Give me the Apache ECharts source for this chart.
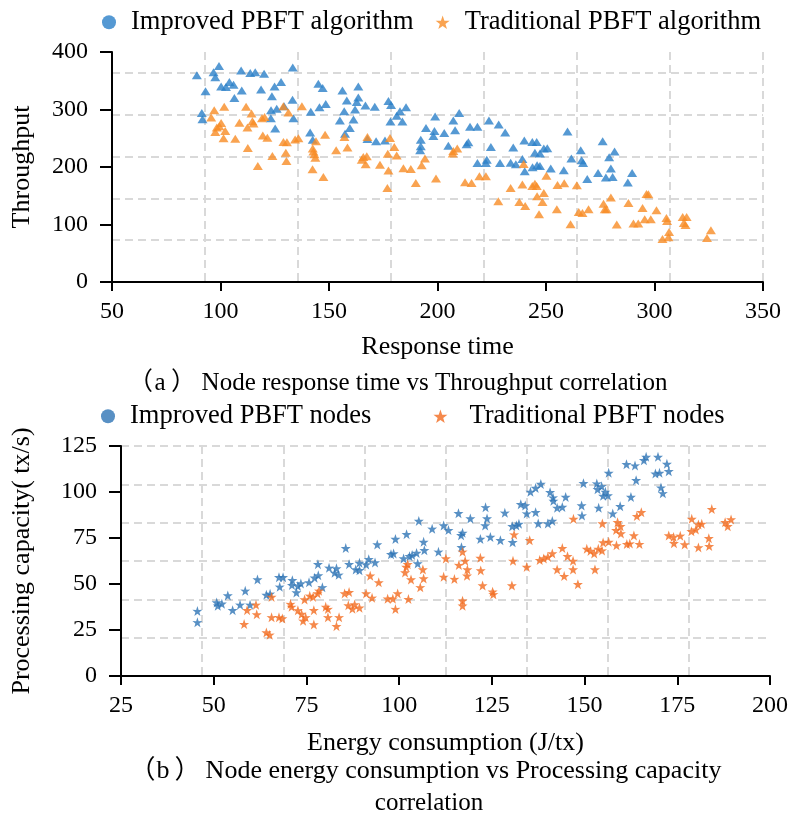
<!DOCTYPE html>
<html>
<head>
<meta charset="utf-8">
<script src="https://cdn.jsdelivr.net/npm/echarts@6/dist/echarts.min.js"></script>
<style>
html, body { margin: 0; padding: 0; background: #fff; }
#main { width: 791px; height: 814px; }
</style>
</head>
<body>
<div id="main"></div>
<script>
// (a) response time vs throughput
var topImproved = [
  [89.1,359.5],[91.4,294],[91.7,283],[93.1,331.7],[96.8,365],[97.6,356],[99.3,375.7],[100.3,340],[102.5,339],[104.1,348],
  [106,343],[109.5,368],[109.8,333],[106.4,320],[113.7,363.5],[116,365],[120.1,362],[118.7,335],[123.7,323],[124.9,340],
  [127.9,348],[133.3,373],[133.2,317],[123.3,298.6],[125.9,301.5],[123.2,285],[125.2,267],[133.6,285],[129.3,305.6],[141.6,296],
  [141.3,260],[142.5,247.6],[145.1,345],[147.1,337.5],[145.6,304],[148.5,309.6],[156.2,333],[158.2,315.5],[155,281],[157,297],
  [157.4,258],[159.6,268],[161.3,282.4],[162,300],[162.8,313],[163.5,340],[163.5,320.7],[166.8,307],[171.1,305],[167.7,248.7],
  [171.7,244.7],[175.8,246],[177.4,315],[178.6,308],[178.3,279],[181.2,289],[182.7,297],[183.8,279],[185.5,304],[192.3,247.6],
  [192.3,236],[192,229],[194.7,268],[198.1,254],[198.9,288],[198.6,262.6],[203.1,259],[205,237],[207.3,281],[208.1,264],
  [210,294],[213.4,239.5],[214.2,243],[215,270],[218.4,270],[218.4,207],[222.7,212.8],[222.3,207],[223.7,281],[224.6,234.8],
  [228.2,274],[228.8,207],[231.2,259.8],[233.7,207.6],[234.9,233.7],[236.1,204.7],[239.1,213.9],[240,246],[240.2,192.5],[243.7,243.5],
  [245.7,243.5],[244.9,225],[247.2,223.3],[243.8,199.5],[245.9,203],[247.2,201.7],[249,232],[250.6,232.5],[252.2,197.2],[258.2,194.3],
  [259.9,261.6],[261.7,215],[266,229],[266.4,211.7],[267.1,207],[269,179],[274,189.6],[276.1,244.7],[277.6,181.6],[279.1,216.9],
  [279.9,197.2],[280.7,182.6],[281.6,226.8],[287.7,172.9],[289.7,189.6]
];
var topTraditional = [
  [95.7,286],[97.1,298.6],[97.6,261],[98.3,268.5],[99.5,270.8],[100.3,276.5],[102.2,262.6],[101.4,250],[101.7,305],[106.8,249],
  [108.7,277],[111.8,305],[112.4,268.5],[112.6,233],[114.3,293],[114.7,279.5],[115.2,275.5],[117.2,201.7],[119.1,284.7],[120.3,287],
  [119.5,255],[121.6,251],[123.9,219],[129,305.6],[131.3,295],[129,243.5],[130.6,243],[130.1,225],[130.4,210.4],[134.4,248],
  [135.9,250],[137.5,305.6],[142.5,232],[142.8,227],[143.3,222],[143.7,216],[144,245],[142.4,196],[147.4,182.6],[148.2,256],
  [153.3,229],[157.1,252],[158.5,233.7],[165.1,212.8],[165.8,217.4],[166.9,204.7],[167.4,218.6],[167.7,252],[173.5,204],[177.1,223],
  [177.4,194],[176.9,163.5],[178.1,250.4],[180.1,234.8],[181.2,219.8],[184.3,197.7],[187.7,196.5],[190,172],[192.7,203],[194.2,214.6],
  [199.3,179.8],[207,223.3],[207.3,227.8],[209.1,232],[212.7,173.4],[215.7,172],[219.3,183.8],[222.3,183.8],[228,140.3],[233.7,163.5],
  [237.7,139],[239.1,169.4],[239.7,205.2],[240.4,132.3],[243.7,167],[244.9,171],[245.7,167],[245.9,149],[246.8,117.7],[248.4,139],
  [249,154.8],[250.2,185],[255,126.4],[255.3,168.7],[258.4,171.6],[261.3,100.3],[264.2,168.2],[265.1,121.7],[266.8,120],[269.6,126.4],
  [276.5,136.3],[277.1,126.4],[277.9,126.4],[279.9,146.8],[282.6,99.8],[288,137.4],[290.3,101.6],[292.5,101.6],[294.5,128.7],[295.5,109],
  [296.3,153],[297.2,152.5],[298.3,109],[300.9,124.7],[305.5,111.3],[305.8,106],[306.7,87],[306.4,77.7],[303.7,74.8],[313,113],
  [314.8,113],[313.5,102.6],[314.3,99],[326,90],[324.2,76.5]
];

// (b) energy consumption vs processing capacity
var botImproved = [
  [45.6,35.3],[45.6,29.2],[50.8,40],[51.1,38.2],[52.2,39.3],[53.8,43.8],[55.1,35.8],[57.1,38.7],[58.5,46.3],[59.8,38.7],
  [61.8,52.5],[64.2,44.1],[65.2,44.7],[67.6,53.7],[68.7,53.7],[67.8,48.5],[71.2,52.1],[71.1,49.4],[72.3,45.4],[72.7,48.9],
  [73.5,50.3],[75.7,50.9],[77.2,53.4],[78.2,54.7],[78.1,60.8],[79.3,48.2],[81.1,58.8],[82.6,56.1],[83.1,58.5],[83.7,55],
  [85.6,69.5],[86.5,60.8],[88.3,57.9],[89.3,57.5],[89.3,61.5],[91.1,60.6],[91.8,63.5],[93.5,61.7],[94.1,71.5],[97.8,66.2],
  [98.5,66.6],[99,74.5],[101.2,63.9],[102,77.1],[102.8,65.1],[103.5,65.7],[104.7,66.9],[105,61.2],[105.3,84.3],[106.6,72.9],
  [106.8,68.4],[108.9,80],[110.6,67.5],[112,81.8],[113.3,79.3],[116,88.5],[116.7,76.5],[117.1,77.8],[116.8,70],[119.2,85.6],
  [121.9,74.5],[123.2,81.8],[123.3,91.7],[123.7,85.6],[124.6,75.6],[127.3,73.8],[128.5,88.7],[130.5,81.4],[130.6,72.7],[131.6,81.8],
  [132.3,82.7],[132.8,93.4],[134,92.7],[134.4,88.3],[135.4,100.1],[136.8,102.2],[138.2,104.4],[136.8,89],[137.5,82.9],[140.1,82.9],
  [141.3,84.3],[140.7,99.9],[141.5,97],[141.6,95.2],[142.6,91.4],[144,91.9],[144.9,97.3],[149.2,92.7],[149.3,87.2],[149.7,104.8],
  [153.3,104.6],[153.8,91.4],[153.5,101.5],[154.6,103.1],[155,97.9],[155.6,100.1],[156.3,98.1],[156.5,110.4],[157.6,88.3],[159.6,92.3],
  [161.3,115.1],[162.5,97.3],[163.6,114.4],[163.9,106.4],[166,117.3],[166.6,119.1],[169.8,119.1],[169.1,110],[170.2,110.4],[172.2,115.3],
  [172.7,111.3],[170.6,102.4],[171.1,99.3]
];
var botTraditional = [
  [58.2,28.2],[59,35.8],[61.4,38.7],[61.6,33.5],[64.2,23.7],[65.1,22.4],[65.6,43],[65.6,31.9],[67.6,31.9],[68.5,31.3],
  [70.7,39.1],[71,37.6],[72.7,35.7],[73.7,33.7],[74.1,30],[74.8,31.9],[74.5,41.6],[75.9,43.6],[76.8,43],[77,35.8],
  [77,28],[78,44.9],[78.4,46.3],[80.2,37.6],[80.8,36.4],[80.8,31.9],[83.1,27.1],[83.8,31.9],[85.3,44.9],[86.5,45.6],
  [86.3,38.4],[87.4,36.5],[88,38.9],[89.3,37.1],[91.1,44.9],[92.2,54.5],[92.7,42.5],[94.5,50.9],[96.9,42],[98.3,42],
  [99,36.4],[99.6,44.9],[101.6,56.3],[101.9,59.3],[102.3,60.8],[102.5,41.8],[103.2,52.5],[105.7,48.2],[106.4,57.9],[106.6,53],
  [112.6,63.9],[112,53.9],[114.9,52.7],[116.1,60.3],[117.1,67.5],[117.8,62.6],[118.4,57.9],[118.3,54.5],[117.1,40.9],[117.1,38.2],
  [121.9,64.2],[122,57.4],[122.5,49.2],[125.2,45.8],[125.4,44.4],[130.4,49.2],[130.7,62.6],[131,76.9],[134.4,59.3],[135.2,73.8],
  [137.9,63],[139,63.9],[140.1,64.8],[141.3,66.6],[142.6,57.9],[144,69.5],[144.5,54.3],[145.4,65.1],[146.9,62.6],[146.9,57.9],
  [148.2,49.9],[147,85.4],[150.6,69.1],[151.6,68],[152.6,66.6],[152.8,57.9],[153.7,69.1],[154.7,68.2],[154.8,82.9],[155,72.6],
  [156.5,72.9],[158.5,79.3],[158.6,71],[158.9,83.6],[159.7,81.4],[159.8,77.5],[161.4,71.7],[162.2,72],[163.3,76.4],[164.8,71.7],
  [164.1,86.9],[165.3,89],[172.7,76.4],[174,75.6],[174.1,72.2],[175.8,76.2],[177,71.5],[178.9,85.4],[178.8,78.7],[180,79.6],
  [180.7,82.4],[181.6,82.7],[180.7,69.9],[183.5,74.9],[183.6,70.6],[184.3,90.7],[187.9,83.6],[188.6,81.4],[189.5,85.1]
];

var font = "'Liberation Serif', 'Times New Roman', 'Noto Sans CJK SC', serif";
var star = 'path://M50,0 L61.8,35.1 L97.6,34.5 L69,56.9 L79.4,90.5 L50,70 L20.6,90.5 L31,56.9 L2.4,34.5 L38.2,35.1 Z';
var gridLine = { show: true, showMinLine: false, showMaxLine: false, lineStyle: { color: '#d9d9d9', width: 2, type: [8, 5] } };
var axisLine = { show: true, lineStyle: { color: '#000', width: 2 } };

function mainX(grid, min, max, step, name, gap) {
  return {
    gridIndex: grid, type: 'value', min: min, max: max, interval: step,
    name: name, nameLocation: 'middle', nameGap: gap,
    nameTextStyle: { fontFamily: font, fontSize: 26, color: '#000' },
    axisLine: axisLine,
    axisTick: { show: true, inside: false, length: 9, lineStyle: { color: '#000', width: 2 } },
    axisLabel: { fontFamily: font, fontSize: 24, color: '#000', margin: 18 },
    splitLine: { show: false }
  };
}
function mainY(grid, min, max, step, name, gap) {
  return {
    gridIndex: grid, type: 'value', min: min, max: max, interval: step,
    name: name, nameLocation: 'middle', nameGap: gap,
    nameTextStyle: { fontFamily: font, fontSize: 26, color: '#000' },
    axisLine: axisLine,
    axisTick: { show: true, inside: false, length: 12, lineStyle: { color: '#000', width: 2 } },
    axisLabel: { fontFamily: font, fontSize: 24, color: '#000', margin: 24 },
    splitLine: { show: false }
  };
}
// helper axes only to draw the dashed grid (it is offset from the ticks in the original)
function gridAxis(grid, min, max, step) {
  return {
    gridIndex: grid, type: 'value', min: min, max: max, interval: step,
    axisLine: { show: false }, axisTick: { show: false }, axisLabel: { show: false },
    splitLine: gridLine, z: 0
  };
}
// full-width brackets get their own wide boxes
function caption(text, x, y, size) {
  return {
    text: text, left: x, top: y, textAlign: 'center',
    textStyle: {
      fontFamily: font, fontSize: size, fontWeight: 'normal', color: '#000',
      rich: {
        l: { fontFamily: font, fontSize: size, color: '#000', width: 28, align: 'right' },
        r: { fontFamily: font, fontSize: size, color: '#000', width: 36, align: 'left' }
      }
    }
  };
}

var chart = echarts.init(document.getElementById('main'));
var option = {
  backgroundColor: '#fff',
  animation: false,
  title: [
    caption('{l|（}a{r|）}Node response time vs Throughput correlation', 392, 366, 25),
    caption('{l|（}b{r|）}Node energy consumption vs Processing capacity', 420, 753, 26),
    caption('correlation', 424, 786, 25)
  ],
  legend: [
    { left: 97, top: 4, itemWidth: 14, itemHeight: 14, itemGap: 22,
      textStyle: { fontFamily: font, fontSize: 26.5, color: '#000', padding: [0, 0, 0, 10] },
      data: [{ name: 'Improved PBFT algorithm', icon: 'circle' }, { name: 'Traditional PBFT algorithm', icon: star }] },
    { left: 96, top: 398, itemWidth: 14, itemHeight: 14, itemGap: 62,
      textStyle: { fontFamily: font, fontSize: 26.5, color: '#000', padding: [0, 0, 0, 10] },
      data: [{ name: 'Improved PBFT nodes', icon: 'circle' },
             { name: 'Traditional PBFT nodes', icon: star, textStyle: { padding: [0, 0, 0, 17] } }] }
  ],
  grid: [
    { left: 112, top: 52, width: 651, height: 230 },
    { left: 121, top: 446, width: 651, height: 230 }
  ],
  xAxis: [
    mainX(0, 50, 350, 50, 'Response time', 52),
    mainX(1, 25, 200, 25, 'Energy consumption (J/tx)', 54),
    gridAxis(0, 50, 350, 300 / 7),
    gridAxis(1, 25, 200, 175 / 8)
  ],
  yAxis: [
    mainY(0, 0, 400, 100, 'Throughput', 77),
    mainY(1, 0, 125, 25, 'Processing capacity( tx/s)', 86),
    gridAxis(0, 0, 400, 400 / 5.5),
    gridAxis(1, 0, 125, 125 / 6)
  ],
  series: [
    { name: 'Improved PBFT algorithm', type: 'scatter', xAxisIndex: 0, yAxisIndex: 0,
      symbol: 'triangle', symbolSize: [10, 8], itemStyle: { color: '#2a80c8' }, data: topImproved },
    { name: 'Traditional PBFT algorithm', type: 'scatter', xAxisIndex: 0, yAxisIndex: 0,
      symbol: 'triangle', symbolSize: [10, 8], itemStyle: { color: '#f78c25' }, data: topTraditional },
    { name: 'Improved PBFT nodes', type: 'scatter', xAxisIndex: 1, yAxisIndex: 1,
      symbol: star, symbolSize: 10, itemStyle: { color: '#2e74b5' }, data: botImproved },
    { name: 'Traditional PBFT nodes', type: 'scatter', xAxisIndex: 1, yAxisIndex: 1,
      symbol: star, symbolSize: 10, itemStyle: { color: '#f36b1f' }, data: botTraditional }
  ]
};
chart.setOption(option);
</script>
</body>
</html>
